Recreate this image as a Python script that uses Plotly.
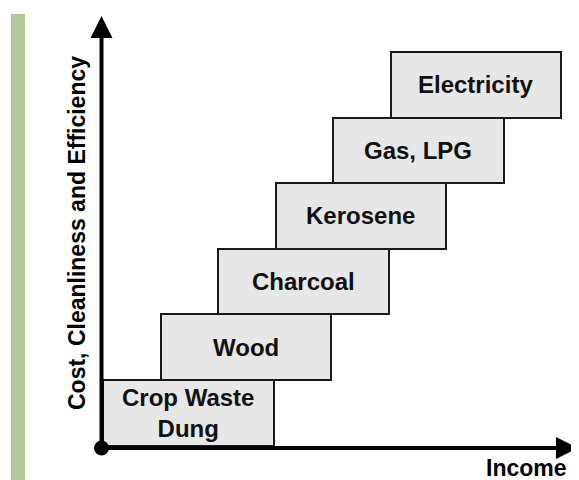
import plotly.graph_objects as go

# ---- data ----
fuels = ["Crop Waste<br>Dung", "Wood", "Charcoal", "Kerosene", "Gas, LPG", "Electricity"]
income_level = [0, 1, 2, 3, 4, 5]      # step where each fuel starts along income
cost_level = [0, 1, 2, 3, 4, 5]        # step of cost / cleanliness / efficiency
box_span = 2.97                        # each fuel spans ~3 income steps
box_height = 1
x_title = "Income"
y_title = "Cost, Cleanliness and Efficiency"

FONT = "Liberation Sans, Arial, sans-serif"

centers = [lv + box_span / 2 for lv in income_level]
heights = [box_height] * len(fuels)

fig = go.Figure()
fig.add_trace(go.Bar(
    x=centers, y=heights, base=cost_level, width=[box_span] * len(fuels),
    marker=dict(color="#e7e7e7", line=dict(color="#1a1a1a", width=2)),
    hoverinfo="skip", showlegend=False,
))

# fuel labels
for c, b, name in zip(centers, cost_level, fuels):
    fig.add_annotation(x=c, y=b + box_height / 2, xref="x", yref="y", text="<b>" + name + "</b>",
                       showarrow=False, font=dict(family=FONT, size=24, color="#111"),
                       xanchor="center", yanchor="middle")

x0 = -0.026
y0 = -0.038
xmax = 8.26
ymax = 6.549

# axis arrows
fig.add_annotation(x=x0, y=ymax, ax=x0, ay=y0, xref="x", yref="y", axref="x", ayref="y",
                   showarrow=True, arrowhead=2, arrowsize=1.1, arrowwidth=4, arrowcolor="#000",
                   text="")
fig.add_annotation(x=xmax, y=y0, ax=x0, ay=y0, xref="x", yref="y", axref="x", ayref="y",
                   showarrow=True, arrowhead=2, arrowsize=1.1, arrowwidth=4, arrowcolor="#000",
                   text="")

# origin dot
fig.add_trace(go.Scatter(x=[x0], y=[y0], mode="markers",
                         marker=dict(size=15, color="#000"), cliponaxis=False,
                         hoverinfo="skip", showlegend=False))

# titles
fig.add_annotation(x=-0.048, y=0.5, xref="paper", yref="paper", text="<b>" + y_title + "</b>",
                   textangle=-90, showarrow=False, font=dict(family=FONT, size=23, color="#000"),
                   xanchor="center", yanchor="middle")
fig.add_annotation(x=0.8914, y=-0.0365, xref="paper", yref="paper", text="<b>" + x_title + "</b>",
                   showarrow=False, font=dict(family=FONT, size=23, color="#000"),
                   xanchor="center", yanchor="middle")

# green side bar
fig.add_shape(type="rect", xref="paper", yref="paper", x0=-0.1858, x1=-0.1566, y0=-0.08, y1=1.0,
              fillcolor="#b3c797", line=dict(width=0), layer="below")

fig.update_xaxes(range=[-0.0522, 8.278], visible=False, fixedrange=True)
fig.update_yaxes(range=[-0.099, 6.58], visible=False, fixedrange=True)
# page body adds an 8px offset, so the figure is 8px smaller and margins shifted
fig.update_layout(
    width=571, height=472,
    margin=dict(l=92, r=0, t=6, b=28, autoexpand=False),
    plot_bgcolor="white", paper_bgcolor="white",
    bargap=0,
)

fig.write_html("out.html")
